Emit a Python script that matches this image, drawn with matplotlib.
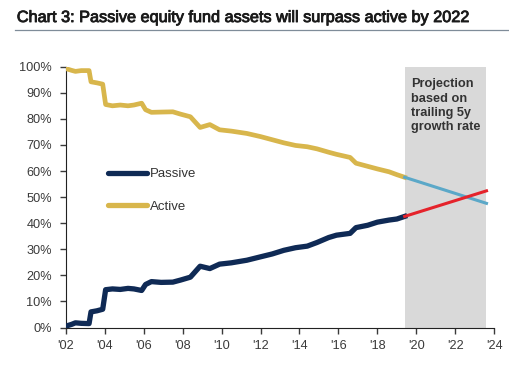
import matplotlib
matplotlib.use('Agg')
import matplotlib.pyplot as plt
import matplotlib.patheffects as pe
from matplotlib.lines import Line2D

plt.rcParams['font.family'] = ['Liberation Sans', 'DejaVu Sans']

# history (share of fund assets, %)
years = [2002.0, 2002.3, 2002.5, 2002.8, 2003.2, 2003.3, 2003.6, 2003.9, 2004.05, 2004.4,
         2004.8, 2005.2, 2005.5, 2005.9, 2006.1, 2006.4, 2006.9, 2007.5, 2007.9, 2008.4,
         2008.9, 2009.4, 2009.9, 2010.5, 2011.3, 2012.0, 2012.6, 2013.2, 2013.8, 2014.4,
         2014.9, 2015.5, 2015.9, 2016.6, 2016.9, 2017.5, 2018.0, 2018.6, 2019.0, 2019.4]
passive = [0.5, 1.2, 1.8, 1.6, 1.5, 6.0, 6.4, 7.0, 14.5, 14.8,
           14.6, 15.0, 14.8, 14.2, 16.5, 17.6, 17.3, 17.4, 18.2, 19.3,
           23.5, 22.6, 24.3, 24.8, 25.8, 27.1, 28.2, 29.6, 30.6, 31.2,
           32.6, 34.5, 35.4, 36.1, 38.3, 39.2, 40.4, 41.2, 41.6, 42.6]
active = [99.3, 98.6, 98.2, 98.5, 98.5, 94.2, 93.8, 93.3, 85.5, 85.0,
          85.3, 85.0, 85.3, 86.0, 83.5, 82.5, 82.6, 82.7, 81.8, 80.8,
          76.7, 77.8, 75.8, 75.3, 74.4, 73.2, 72.0, 70.8, 69.8, 69.3,
          68.5, 67.2, 66.4, 65.2, 63.0, 61.8, 60.8, 59.7, 58.6, 57.6]

# projection
proj_years = [2019.4, 2023.6]
proj_passive = [42.6, 52.4]
proj_active = [57.6, 47.6]

xticks = [2002, 2004, 2006, 2008, 2010, 2012, 2014, 2016, 2018, 2020, 2022, 2024]
xlabels = ["'02", "'04", "'06", "'08", "'10", "'12", "'14", "'16", "'18", "'20", "'22", "'24"]
yticks = [0, 10, 20, 30, 40, 50, 60, 70, 80, 90, 100]
ylabels = ['0%', '10%', '20%', '30%', '40%', '50%', '60%', '70%', '80%', '90%', '100%']

navy = '#0f2a55'
gold = '#d8b64c'

fig = plt.figure(figsize=(5.1, 3.65), dpi=100)
ax = fig.add_axes([0.1288, 0.1027, 0.8404, 0.7146])

ax.axvspan(proj_years[0], proj_years[1], color='#d9d9d9', zorder=0, lw=0)
ax.plot(years, active, color=gold, lw=3.4, solid_joinstyle='round', zorder=3)
ax.plot(years, passive, color=navy, lw=3.8, solid_joinstyle='round', zorder=3)
ax.plot(proj_years, proj_active, color='#5ba8c8', lw=2.2, zorder=3)
ax.plot(proj_years, proj_passive, color='#e5232b', lw=2.2, zorder=4)

ax.text(2019.75, 95.5, 'Projection\nbased on\ntrailing 5y\ngrowth rate', fontsize=9.2,
        fontweight='bold', color='#333333', va='top', ha='left', linespacing=1.25)

handles = [Line2D([], [], color=navy, lw=3.8, solid_capstyle='round'),
           Line2D([], [], color=gold, lw=3.8, solid_capstyle='round')]
ax.legend(handles, ['Passive', 'Active'], loc='center left', bbox_to_anchor=(0.098, 0.525),
          frameon=False, fontsize=9.5, handlelength=3.0, handletextpad=0.2,
          labelspacing=1.55, borderpad=0, borderaxespad=0, labelcolor='#333333')

ax.set_xlim(2002, 2024)
ax.set_ylim(0, 100)
ax.set_xticks(xticks, xlabels)
ax.set_yticks(yticks, ylabels)
ax.tick_params(axis='both', labelsize=9.2, colors='#3a3a3a', length=4, width=1)
ax.tick_params(axis='x', pad=5)
ax.tick_params(axis='y', pad=6)
ax.spines['top'].set_visible(False)
ax.spines['right'].set_visible(False)
ax.spines['left'].set_color('#222222')
ax.spines['bottom'].set_color('#222222')

title = fig.text(0.033, 0.952, 'Chart 3: Passive equity fund assets will surpass active by 2022',
                 fontsize=11.7, color='#1a1a1a', va='center', ha='left')
title.set_path_effects([pe.withStroke(linewidth=0.6, foreground='#1a1a1a')])
fig.add_artist(Line2D([0.03, 1.0], [0.919, 0.919], color='#7f8c99', lw=0.9))

plt.savefig('out.png', dpi=100)
